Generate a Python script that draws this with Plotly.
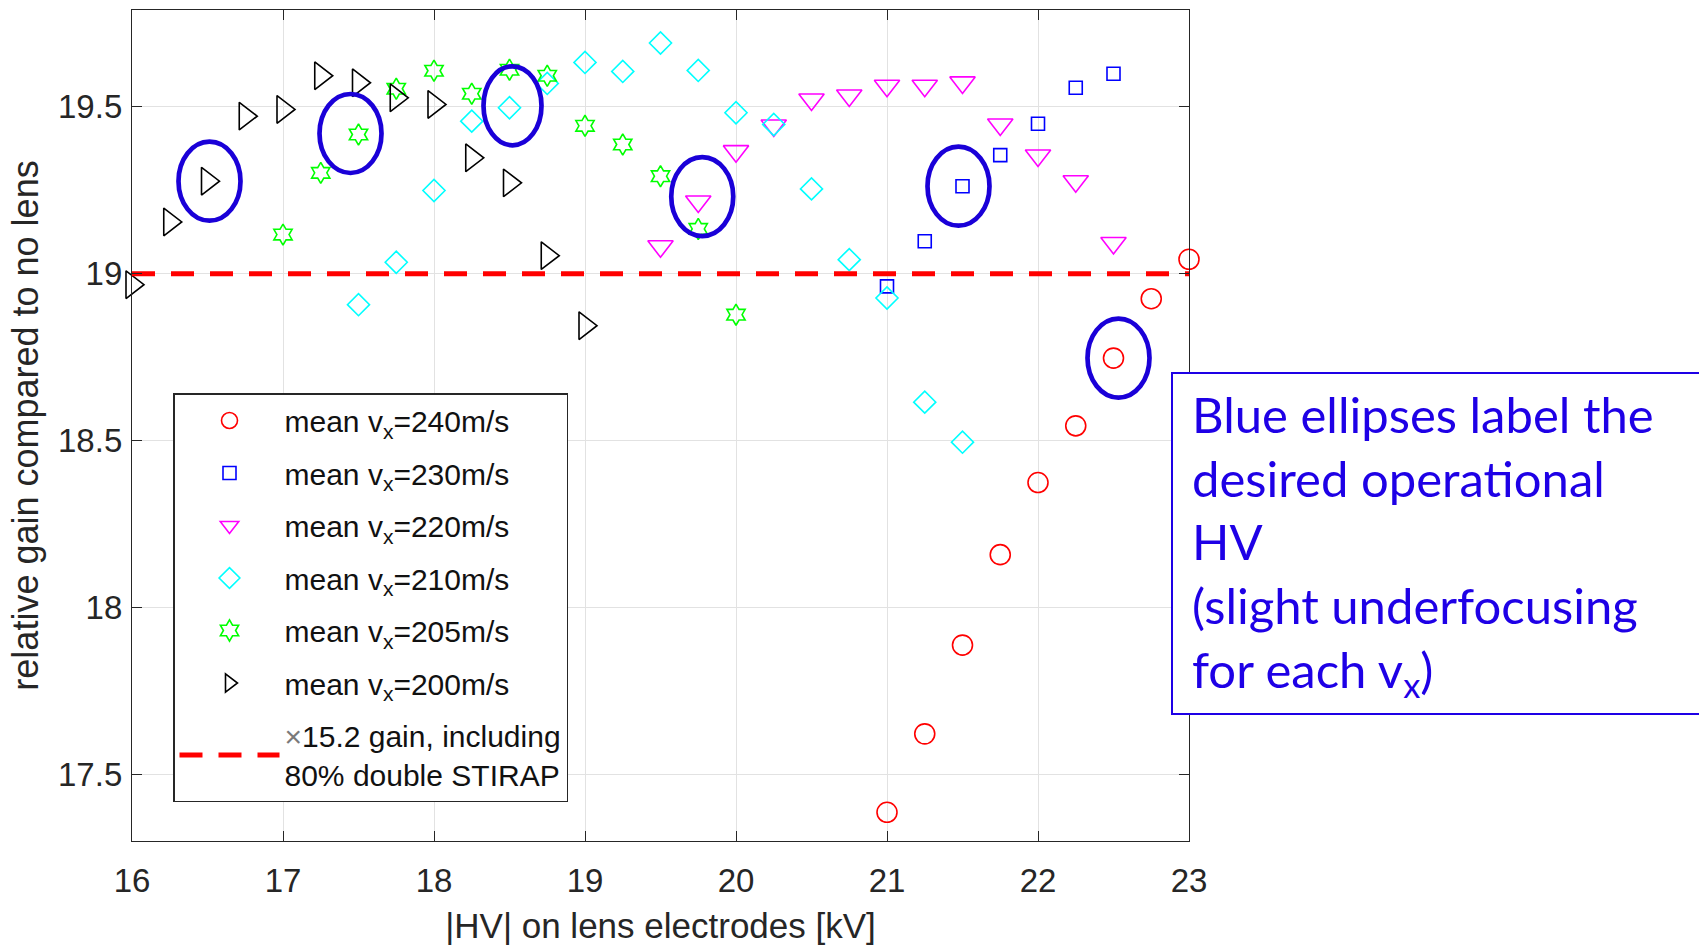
import plotly.graph_objects as go

# |HV| on the lens electrodes (kV) and relative gain, one pair per mean v_x
hv_240 = [21.0, 21.25, 21.5, 21.75, 22.0, 22.25, 22.5, 22.75, 23.0]
gain_240 = [17.386, 17.621, 17.887, 18.158, 18.374, 18.544, 18.747, 18.925, 19.043]

hv_230 = [21.0, 21.25, 21.5, 21.75, 22.0, 22.25, 22.5]
gain_230 = [18.962, 19.097, 19.262, 19.355, 19.449, 19.557, 19.599]

hv_220 = [19.5, 19.75, 20.0, 20.25, 20.5, 20.75, 21.0, 21.25, 21.5, 21.75, 22.0, 22.25, 22.5]
gain_220 = [19.082, 19.216, 19.367, 19.444, 19.522, 19.534, 19.563, 19.563, 19.573,
            19.447, 19.354, 19.277, 19.092]

hv_210 = [17.5, 17.75, 18.0, 18.25, 18.5, 18.75, 19.0, 19.25, 19.5, 19.75, 20.0,
          20.25, 20.5, 20.75, 21.0, 21.25, 21.5]
gain_210 = [18.907, 19.034, 19.249, 19.457, 19.497, 19.570, 19.633, 19.606, 19.691,
            19.609, 19.482, 19.447, 19.254, 19.042, 18.927, 18.615, 18.495]

hv_205 = [17.0, 17.25, 17.5, 17.75, 18.0, 18.25, 18.5, 18.75, 19.0, 19.25, 19.5, 19.75, 20.0]
gain_205 = [19.117, 19.302, 19.417, 19.554, 19.608, 19.539, 19.611, 19.593, 19.443,
            19.387, 19.292, 19.134, 18.877]

hv_200 = [16.0, 16.25, 16.5, 16.75, 17.0, 17.25, 17.5, 17.75, 18.0, 18.25, 18.5, 18.75, 19.0]
gain_200 = [18.967, 19.155, 19.277, 19.472, 19.492, 19.593, 19.572, 19.527, 19.507,
            19.347, 19.272, 19.054, 18.844]

velocities = ["240", "230", "220", "210", "205", "200"]

# chosen operating HV for each velocity (slight underfocusing)
operating_hv = [22.5, 21.5, 19.75, 18.5, 17.5, 16.5]

# reference level: x15.2 gain including 80% double STIRAP
reference_gain = 19.0
reference_hv = [16.0, 23.0]

x_ticks = [16, 17, 18, 19, 20, 21, 22, 23]
y_ticks = [17.5, 18.0, 18.5, 19.0, 19.5]
y_tick_text = ["17.5", "18", "18.5", "19", "19.5"]

series_x = [hv_240, hv_230, hv_220, hv_210, hv_205, hv_200]
series_y = [gain_240, gain_230, gain_220, gain_210, gain_205, gain_200]

# marker styling per series (MATLAB-like open markers)
symbols = ["circle-open", "square-open", "triangle-down-open", "diamond-open",
           "hexagram-open", "triangle-right-open"]
sizes = [20, 13, 22, 17, 16, 24]
colors = ["#FF0000", "#0000FF", "#FF00FF", "#00FFFF", "#00FF00", "#000000"]

# canvas / plot-area geometry in pixels
W, H = 1699, 945
L, R, T, B = 132, 510, 10, 104
PW, PH = W - L - R, H - T - B


def px_x(px):
    return (px - L) / PW


def px_y(py):
    return (H - B - py) / PH


FONT = "Liberation Sans, Arial, Helvetica, sans-serif"
AX = "#262626"
ELLIPSE = "#1A00D8"
NOTE = "#1E00E6"

fig = go.Figure()

for i, v in enumerate(velocities):
    fig.add_trace(go.Scatter(
        x=series_x[i], y=series_y[i], mode="markers",
        name="mean v<sub>x</sub>=" + v + "m/s",
        legendgroup="g" + v,
        marker=dict(symbol=symbols[i], size=sizes[i], color=colors[i],
                    line=dict(width=1.6, color=colors[i])),
        cliponaxis=False,
    ))

fig.add_trace(go.Scatter(
    x=reference_hv, y=[reference_gain] * len(reference_hv), mode="lines",
    name="<span style='color:#7a7a7a'>×</span>15.2 gain, including<br>80% double STIRAP",
    legendgroup="ref",
    line=dict(color="#FF0000", width=5, dash="23px,16px"),
))

# blue ellipses around the operating points (pixel-sized, anchored to data)
offsets = [(5, 0), (-4, 0), (4, 5), (3, 2), (-8, 1), (2, 0)]
half_w = [31, 31, 31, 29, 31, 31]
half_h = 39.5
for i, hv in enumerate(operating_hv):
    g = series_y[i][series_x[i].index(hv)]
    dx, dy = offsets[i]
    fig.add_shape(
        type="circle", xref="x", yref="y",
        xsizemode="pixel", ysizemode="pixel",
        xanchor=hv, yanchor=g,
        x0=dx - half_w[i], x1=dx + half_w[i],
        y0=dy - half_h, y1=dy + half_h,
        line=dict(color=ELLIPSE, width=4.7), layer="above",
    )

# note box on the right
fig.add_shape(
    type="rect", xref="paper", yref="paper",
    x0=px_x(1172), x1=px_x(1712), y0=px_y(714), y1=px_y(373),
    line=dict(color=NOTE, width=2), fillcolor="white", layer="above",
)
fig.add_annotation(
    xref="paper", yref="paper", x=px_x(1190), y=px_y(545),
    xanchor="left", yanchor="middle", align="left", showarrow=False,
    text=("Blue ellipses label the<br>desired operational<br>HV<br>"
          "(slight underfocusing<br>for each v<sub>x</sub>)"),
    font=dict(family="Lato, Noto Sans, sans-serif", size=49, color=NOTE),
)

axis_common = dict(
    showgrid=True, gridcolor="#E2E2E2", gridwidth=1,
    showline=True, linecolor=AX, linewidth=1.3, mirror="ticks",
    ticks="inside", ticklen=10, tickwidth=1.2, tickcolor=AX,
    zeroline=False,
    tickfont=dict(family=FONT, size=33, color=AX),
)

fig.update_layout(
    width=W, height=H,
    margin=dict(l=L, r=R, t=T, b=B, autoexpand=False),
    paper_bgcolor="white", plot_bgcolor="white",
    font=dict(family=FONT, color=AX),
    xaxis=dict(range=[16, 23], tickvals=x_ticks, ticklabelstandoff=10,
               title=dict(text="|HV| on lens electrodes [kV]",
                          font=dict(family=FONT, size=35, color=AX), standoff=20),
               **axis_common),
    yaxis=dict(range=[17.3, 19.79], tickvals=y_ticks, ticktext=y_tick_text,
               ticklabelstandoff=2,
               title=dict(text="relative gain compared to no lens",
                          font=dict(family=FONT, size=36, color=AX), standoff=8),
               **axis_common),
    legend=dict(
        x=px_x(173), y=px_y(393), xanchor="left", yanchor="top",
        bgcolor="white", bordercolor=AX, borderwidth=1.5,
        font=dict(family=FONT, size=30, color="#111111"),
        itemwidth=100, tracegroupgap=10.5, traceorder="grouped",
    ),
    showlegend=True,
)

fig.write_html("out.html")
